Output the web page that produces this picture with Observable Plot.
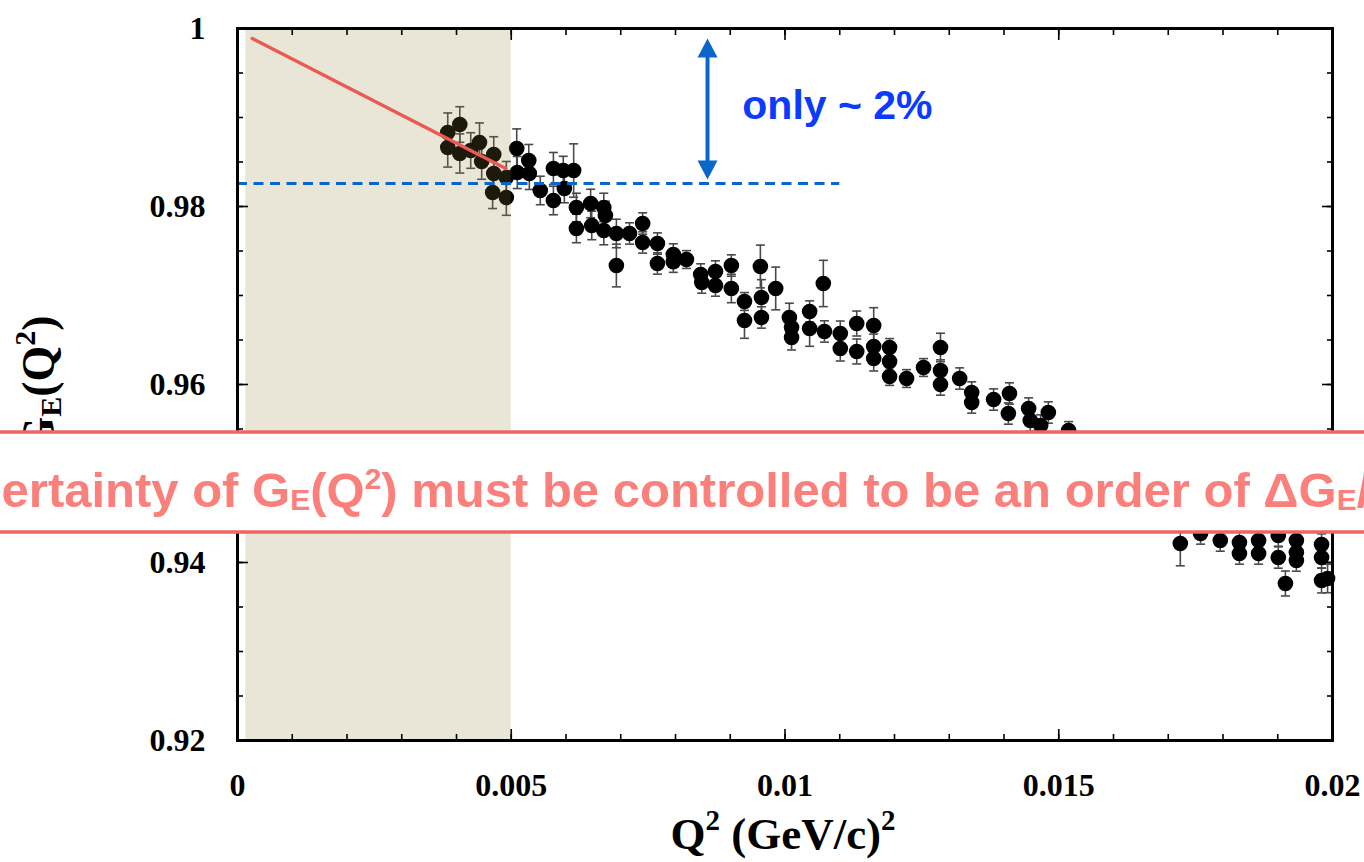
<!DOCTYPE html>
<html>
<head>
<meta charset="utf-8">
<script src="https://cdn.jsdelivr.net/npm/d3@7"></script>
<script src="https://cdn.jsdelivr.net/npm/@observablehq/plot@0.6"></script>
<style>
html, body { margin: 0; padding: 0; background: #fff; overflow: hidden; }
#chart { position: relative; width: 1364px; height: 862px; }
</style>
</head>
<body>
<div id="chart"></div>
<script>
// ---- data ----
const q2 = [0.00384,0.00384,0.00406,0.00406,0.00426,0.00442,0.00446,0.00468,0.00468,0.00466,0.00491,0.00491,
  0.00510,0.00511,0.00532,0.00533,0.00553,0.00577,0.00577,0.00595,0.00614,0.00597,0.00619,0.00619,0.00645,0.00647,
  0.00669,0.00669,0.00672,0.00692,0.00692,0.00716,0.00740,0.00740,0.00767,0.00767,0.00796,0.00796,0.00820,0.00846,
  0.00848,0.00873,0.00873,0.00902,0.00902,0.00926,0.00926,0.00955,0.00957,0.00957,0.00983,0.01008,0.01012,0.01012,
  0.01045,0.01045,0.01070,0.01072,0.01101,0.01101,0.01131,0.01131,0.01162,0.01162,0.01162,0.01191,0.01191,0.01191,
  0.01222,0.01253,0.01284,0.01284,0.01284,0.01319,0.01341,0.01341,0.01381,0.01410,0.01408,0.01445,0.01448,0.01481,
  0.01467,0.01518,
  0.01722,0.01759,0.01795,0.01830,0.01830,0.01865,0.01865,0.01901,0.01901,0.01914,0.01934,0.01934,0.01934,0.01980,
  0.01980,0.01980,0.01991];
const ge = [0.98831,0.98663,0.98921,0.98596,0.98629,0.98719,0.98506,0.98584,0.98371,0.98157,0.98326,0.98101,
  0.98652,0.98382,0.98517,0.98371,0.98180,0.98427,0.98067,0.98404,0.98404,0.98202,0.97989,0.97753,0.98034,0.97787,
  0.97989,0.97730,0.97899,0.97697,0.97337,0.97697,0.97809,0.97596,0.97584,0.97360,0.97461,0.97380,0.97404,0.97236,
  0.97146,0.97270,0.97112,0.97337,0.97079,0.96933,0.96719,0.97326,0.96978,0.96753,0.97079,0.96753,0.96640,0.96528,
  0.96820,0.96629,0.97135,0.96596,0.96573,0.96404,0.96685,0.96371,0.96663,0.96427,0.96292,0.96416,0.96258,0.96090,
  0.96067,0.96191,0.96416,0.96157,0.96000,0.96067,0.95910,0.95798,0.95831,0.95899,0.95674,0.95730,0.95596,0.95685,
  0.95539,0.95483,
  0.94213,0.94326,0.94247,0.94225,0.94101,0.94247,0.94101,0.94303,0.94056,0.93764,0.94247,0.94112,0.94022,0.94202,
  0.94056,0.93798,0.93820];
const dge = [0.0022,0.0022,0.0020,0.0022,0.0020,0.0022,0.0020,0.0020,0.0018,0.0018,0.0018,0.0020,
  0.0022,0.0018,0.0018,0.0018,0.0016,0.0018,0.0016,0.0016,0.0030,0.0016,0.0016,0.0016,0.0016,0.0016,
  0.0016,0.0016,0.0016,0.0016,0.0024,0.0012,0.0012,0.0012,0.0012,0.0012,0.0012,0.0012,0.0010,0.0012,
  0.0012,0.0012,0.0012,0.0012,0.0016,0.0010,0.0020,0.0024,0.0020,0.0012,0.0024,0.0016,0.0014,0.0014,
  0.0012,0.0020,0.0026,0.0012,0.0014,0.0014,0.0014,0.0014,0.0020,0.0014,0.0014,0.0010,0.0010,0.0010,
  0.0010,0.0010,0.0016,0.0012,0.0012,0.0012,0.0012,0.0012,0.0012,0.0012,0.0012,0.0012,0.0012,0.0012,
  0.0012,0.0010,
  0.0025,0.0012,0.0012,0.0012,0.0012,0.0012,0.0012,0.0012,0.0012,0.0014,0.0012,0.0012,0.0012,0.0012,
  0.0012,0.0014,0.0016];

// fit line (red) end points
const fitQ2 = [0.00027, 0.0049];
const fitGE = [0.99888, 0.98427];
// shaded region
const shadeQ2 = [0.00015, 0.005];
// dashed reference level
const refGE = 0.98258;
const refQ2 = [0, 0.011];
// double arrow
const arrowQ2 = 0.008585;
const arrowGE = [0.99888, 0.98303];
const noteText = "only ~ 2%";
const noteQ2 = 0.00922;
const noteGE = 0.9913;

// axes
const xTicks = [0, 0.005, 0.01, 0.015, 0.02];
const xTickLabels = ["0", "0.005", "0.01", "0.015", "0.02"];
const xMinor = d3.ticks(0, 0.02, 20);
const yTicks = [0.92, 0.94, 0.96, 0.98, 1];
const yTickLabels = ["0.92", "0.94", "0.96", "0.98", "1"];
const yMinor = d3.ticks(0.92, 1, 16);

// ---- build ----
const points = q2.map((x, i) => ({x, y: ge[i], e: dge[i]}));
const fit = fitQ2.map((x, i) => ({x, y: fitGE[i]}));
const heads = [{x: arrowQ2, y: arrowGE[0], r: 0}, {x: arrowQ2, y: arrowGE[1], r: 180}];

const capSymbol = {draw(ctx) { ctx.moveTo(-4.5, 0); ctx.lineTo(4.5, 0); }};
const headSymbol = {draw(ctx) { ctx.moveTo(0, 0); ctx.lineTo(-10, 19); ctx.lineTo(10, 19); ctx.closePath(); }};

const blue = "#0a66c8";
const tickStyle = {fill: "none", label: null, stroke: "#000", strokeWidth: 1.6};

const plot = Plot.plot({
  width: 1364, height: 862,
  marginLeft: 237, marginRight: 32, marginTop: 28, marginBottom: 122,
  x: {domain: [0, 0.02]},
  y: {domain: [0.92, 1]},
  style: {fontFamily: "'Liberation Serif', 'Times New Roman', serif", fontWeight: "bold", fontSize: "32px", color: "#000", background: "#fff"},
  marks: [
    Plot.ruleX(points, {x: "x", y1: d => d.y - d.e, y2: d => d.y + d.e, stroke: "#4a4a4a", strokeWidth: 1.6}),
    Plot.dot(points, {x: "x", y: d => d.y + d.e, symbol: capSymbol, stroke: "#4a4a4a", fill: "none", strokeWidth: 1.6}),
    Plot.dot(points, {x: "x", y: d => d.y - d.e, symbol: capSymbol, stroke: "#4a4a4a", fill: "none", strokeWidth: 1.6}),
    Plot.dot(points, {x: "x", y: "y", r: 7.8, fill: "#000", stroke: "none"}),
    Plot.rect([shadeQ2], {x1: d => d[0], x2: d => d[1], fill: "#917d37", fillOpacity: 0.2}),
    Plot.line(fit, {x: "x", y: "y", stroke: "#eb5a50", strokeWidth: 3.5}),
    Plot.ruleY([refGE], {x1: refQ2[0], x2: refQ2[1], stroke: blue, strokeWidth: 3, strokeDasharray: "10,6.5"}),
    Plot.ruleX([arrowQ2], {y1: arrowGE[0] - 0.0018, y2: arrowGE[1] + 0.0018, stroke: blue, strokeWidth: 4}),
    Plot.dot(heads, {x: "x", y: "y", rotate: "r", symbol: headSymbol, fill: blue, stroke: "none"}),
    Plot.text([noteText], {x: noteQ2, y: noteGE, text: d => d, textAnchor: "start", fill: "#0b3bff",
      fontFamily: "'Liberation Sans', Arial, sans-serif", fontWeight: "bold", fontSize: 41}),
    Plot.frame({stroke: "#000", strokeWidth: 3}),
    Plot.axisX(xTicks, {anchor: "bottom", tickSize: 0, tickPadding: 33, label: null,
      tickFormat: d => xTickLabels[xTicks.indexOf(d)], fontSize: 32, fontWeight: "bold"}),
    Plot.axisX(xMinor, {anchor: "bottom", tickSize: -6, ...tickStyle}),
    Plot.axisX(xTicks, {anchor: "bottom", tickSize: -11, ...tickStyle}),
    Plot.axisX(xMinor, {anchor: "top", tickSize: -6, ...tickStyle}),
    Plot.axisX(xTicks, {anchor: "top", tickSize: -11, ...tickStyle}),
    Plot.axisY(yTicks, {anchor: "left", tickSize: 0, tickPadding: 32, label: null,
      tickFormat: d => yTickLabels[yTicks.indexOf(d)], fontSize: 32, fontWeight: "bold"}),
    Plot.axisY(yMinor, {anchor: "left", tickSize: -6, ...tickStyle}),
    Plot.axisY(yTicks, {anchor: "left", tickSize: -11, ...tickStyle}),
    Plot.axisY(yMinor, {anchor: "right", tickSize: -6, ...tickStyle}),
    Plot.axisY(yTicks, {anchor: "right", tickSize: -11, ...tickStyle})
  ]
});

document.getElementById("chart").appendChild(plot);
const svg = d3.select(plot);

// axis titles
const serif = "'Liberation Serif', 'Times New Roman', serif";
const yl = svg.append("text")
  .attr("transform", "translate(54,384) rotate(-90)")
  .attr("text-anchor", "middle")
  .attr("fill", "#000")
  .style("font-family", serif).style("font-weight", "bold").style("font-size", "46px");
yl.append("tspan").text("G");
yl.append("tspan").style("font-size", "30px").attr("dy", 7).text("E");
yl.append("tspan").attr("dy", -7).text("(Q");
yl.append("tspan").style("font-size", "30px").attr("dy", -19).text("2");
yl.append("tspan").attr("dy", 19).text(")");

const xl = svg.append("text")
  .attr("x", 783).attr("y", 849)
  .attr("text-anchor", "middle")
  .attr("fill", "#000")
  .style("font-family", serif).style("font-weight", "bold").style("font-size", "45px");
xl.append("tspan").text("Q");
xl.append("tspan").style("font-size", "29px").attr("dy", -19).text("2");
xl.append("tspan").attr("dy", 19).text(" (GeV/c)");
xl.append("tspan").style("font-size", "29px").attr("dy", -19).text("2");

// banner
const banner = svg.append("g");
banner.append("rect").attr("x", 0).attr("y", 432).attr("width", 1364).attr("height", 100).attr("fill", "#fff");
banner.append("line").attr("x1", 0).attr("x2", 1364).attr("y1", 432).attr("y2", 432).attr("stroke", "#ec6762").attr("stroke-width", 3.5);
banner.append("line").attr("x1", 0).attr("x2", 1364).attr("y1", 532).attr("y2", 532).attr("stroke", "#ec6762").attr("stroke-width", 3.5);
const bt = banner.append("text").attr("x", -91).attr("y", 507).attr("fill", "#fb807b")
  .attr("text-anchor", "start")
  .style("font-family", "'Liberation Sans', Arial, sans-serif").style("font-weight", "bold").style("font-size", "49px");
bt.append("tspan").text("Uncertainty of G");
bt.append("tspan").style("font-size", "30px").attr("dy", 3).text("E");
bt.append("tspan").attr("dy", -3).text("(Q");
bt.append("tspan").style("font-size", "30px").attr("dy", -18).text("2");
bt.append("tspan").attr("dy", 18).text(") must be controlled to be an order of ΔG");
bt.append("tspan").style("font-size", "30px").attr("dy", 3).text("E");
bt.append("tspan").attr("dy", -3).text("/G");
bt.append("tspan").style("font-size", "30px").attr("dy", 3).text("E");
</script>
</body>
</html>
